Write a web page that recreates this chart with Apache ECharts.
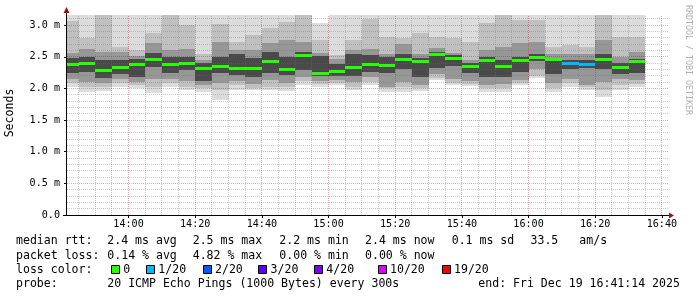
<!DOCTYPE html>
<html><head><meta charset="utf-8">
<script src="https://cdn.jsdelivr.net/npm/echarts@6/dist/echarts.min.js"></script>
<style>html,body{margin:0;padding:0;background:#fff}#c{width:697px;height:297px}</style>
</head><body><div id="c"></div>
<script>
// ---- data (values in ms, columns of 5 minutes) ----
const columnStart = ['13:40','13:45','13:50','13:55','14:00','14:05','14:10','14:15','14:20','14:25','14:30','14:35','14:40','14:45','14:50','14:55','15:00','15:05','15:10','15:15','15:20','15:25','15:30','15:35','15:40','15:45','15:50','15:55','16:00','16:05','16:10','16:15','16:20','16:25','16:30'];
const medianRtt = [2.38,2.395,2.29,2.34,2.38,2.47,2.38,2.395,2.33,2.35,2.315,2.33,2.43,2.305,2.53,2.24,2.27,2.34,2.38,2.37,2.46,2.44,2.55,2.48,2.35,2.45,2.35,2.45,2.50,2.46,2.40,2.39,2.47,2.34,2.44];
const lossCount = [0,0,0,0,0,0,0,0,0,0,0,0,0,0,0,0,0,0,0,0,0,0,0,0,0,0,0,0,0,0,1,1,0,0,0];
const smokeMax = [3.30,3.30,3.30,3.30,3.30,3.30,3.30,3.30,3.30,3.30,3.30,3.30,3.30,3.30,3.30,3.03,3.30,3.30,3.30,3.30,3.30,3.30,3.30,3.30,3.30,3.30,3.30,3.30,3.30,3.30,3.30,3.30,3.30,3.30,3.30];
const smokeHi1 = [3.06,2.79,3.20,2.66,2.60,2.87,3.20,3.00,2.55,3.02,2.74,2.84,2.95,3.05,3.20,2.77,2.53,2.76,3.10,2.82,2.80,2.88,2.82,2.79,2.74,3.03,3.20,3.08,3.08,2.66,2.68,2.66,3.20,2.82,2.82];
const smokeHi2 = [2.56,2.62,2.58,2.58,2.52,2.72,2.60,2.63,2.45,2.74,2.60,2.61,2.72,2.77,2.74,2.56,2.47,2.60,2.63,2.54,2.70,2.55,2.64,2.56,2.45,2.61,2.66,2.71,2.74,2.55,2.55,2.55,2.76,2.50,2.58];
const smokeHi3 = [2.48,2.50,2.45,2.45,2.47,2.56,2.50,2.50,2.40,2.50,2.55,2.48,2.58,2.50,2.58,2.52,2.38,2.55,2.53,2.50,2.55,2.48,2.58,2.53,2.40,2.50,2.45,2.50,2.55,2.48,2.45,2.45,2.55,2.40,2.47];
const smokeLo3 = [2.25,2.26,2.16,2.22,2.18,2.34,2.25,2.29,2.12,2.24,2.21,2.18,2.24,2.21,2.29,2.20,2.20,2.20,2.26,2.24,2.31,2.18,2.32,2.35,2.25,2.18,2.18,2.26,2.43,2.23,2.30,2.33,2.30,2.23,2.25];
const smokeLo2 = [2.15,2.10,2.08,2.15,2.10,2.15,2.15,2.12,2.06,2.08,2.12,2.07,2.13,2.08,2.18,2.12,2.13,2.10,2.18,2.03,2.10,2.05,2.22,2.15,2.12,2.06,2.07,2.13,2.30,2.09,2.15,2.06,2.10,2.15,2.14];
const smokeLo1 = [2.08,2.03,2.02,2.08,2.05,2.02,2.08,2.03,2.00,1.98,2.05,2.01,2.03,2.02,2.12,2.07,2.08,2.02,2.10,2.00,2.02,2.00,2.17,2.08,2.07,2.00,2.00,2.08,2.20,2.00,2.08,2.02,1.98,2.05,2.07];
const smokeMin = [2.02,1.95,1.96,2.02,2.00,1.92,2.03,1.97,1.95,1.82,1.97,1.97,1.97,1.96,2.06,2.03,2.05,1.97,2.05,1.95,1.95,1.96,2.13,2.05,2.04,1.95,1.95,2.05,2.16,1.95,2.03,1.98,1.87,1.98,2.02];
const xTickLabels = ['14:00','14:20','14:40','15:00','15:20','15:40','16:00','16:20','16:40'];
const yTickValues = [0,0.5,1.0,1.5,2.0,2.5,3.0];
const lossLabels = ['0','1/20','2/20','3/20','4/20','10/20','19/20'];
const lossThresholds = [0,1,2,3,4,10,19];
const lossColors = ['#26ff00','#00b8ff','#0059ff','#5e00ff','#7e00ff','#dd00ff','#ff0000'];
const statsRtt = ['median rtt:','2.4 ms avg','2.5 ms max','2.2 ms min','2.4 ms now','0.1 ms sd','33.5','am/s'];
const statsLoss = ['packet loss:','0.14 % avg','4.82 % max','0.00 % min','0.00 % now'];
const probeText = ['probe:','20 ICMP Echo Pings (1000 Bytes) every 300s','end: Fri Dec 19 16:41:14 2025'];

// ---- helpers ----
const toMin = s => { const [h,m] = s.split(':').map(Number); return h*60+m; };
const END_MIN = 16*60+41+14/60;
const X_MAX = END_MIN, X_MIN = END_MIN - 180;
const Y_MAX = 3.16;
const STEP = 5;
const fmtTime = v => { const h = Math.floor(v/60), m = Math.round(v%60); return String(h).padStart(2,'0')+':'+String(m).padStart(2,'0'); };
const lossColor = n => { let c = lossColors[0]; lossThresholds.forEach((t,i)=>{ if (n>=t) c = lossColors[i]; }); return c; };

const smokeData = columnStart.map((s,i)=>[toMin(s), toMin(s)+STEP, smokeMin[i], smokeLo1[i], smokeLo2[i], smokeLo3[i], smokeHi3[i], smokeHi2[i], smokeHi1[i], smokeMax[i]]);
const medianData = columnStart.map((s,i)=>[toMin(s), toMin(s)+STEP, medianRtt[i], lossCount[i]]);
const gridData = [];
for (let m = Math.ceil(X_MIN/5)*5; m <= X_MAX; m += 5) gridData.push([m, 0, 0, m % 20 === 0 ? 1 : 0]);
for (let k = 1; k <= 31; k++) gridData.push([X_MIN, k/10, 1, k % 5 === 0 ? 1 : 0]);

const mono = '"DejaVu Sans Mono", monospace';
const bandColors = ['#dcdcdc','#c0c0c0','#979797','#4a4a4a'];

function renderSmoke(params, api) {
  const x0 = Math.max(api.value(0), X_MIN), x1 = Math.min(api.value(1), X_MAX);
  const px0 = Math.round(api.coord([x0, 0])[0]);
  const px1 = Math.round(api.coord([x1, 0])[0]);
  const py = v => Math.round(api.coord([x0, Math.min(v, Y_MAX)])[1]);
  const children = [];
  for (let b = 0; b < 4; b++) {
    const lo = api.value(2+b), hi = api.value(9-b);
    const yt = py(hi), yb = py(lo);
    children.push({type:'rect', shape:{x:px0, y:yt, width:px1-px0, height:yb-yt}, style:{fill:bandColors[b]}});
  }
  return {type:'group', children};
}
function renderMedian(params, api) {
  const x0 = Math.max(api.value(0), X_MIN), x1 = Math.min(api.value(1), X_MAX);
  const px0 = Math.round(api.coord([x0, 0])[0]);
  const px1 = Math.round(api.coord([x1, 0])[0]);
  const y = Math.round(api.coord([x0, api.value(2)])[1]);
  return {type:'rect', shape:{x:px0, y:y-1, width:px1-px0, height:3}, style:{fill:lossColor(api.value(3))}};
}
function renderGrid(params, api) {
  const vertical = api.value(2) === 0, major = api.value(3) === 1;
  const stroke = major ? 'rgba(210,0,0,0.35)' : 'rgba(110,110,110,0.35)';
  const [l, b] = api.coord([X_MIN, 0]);
  const [r, t] = api.coord([X_MAX, Y_MAX]);
  let shape;
  if (vertical) {
    const x = Math.floor(api.coord([api.value(0), 0])[0]) + 0.5;
    shape = {x1:x, y1:Math.round(b), x2:x, y2:Math.round(t)};
  } else {
    const y = Math.floor(api.coord([X_MIN, api.value(1)])[1]) + 0.5;
    shape = {x1:Math.round(l)+1, y1:y, x2:Math.round(r)+2, y2:y};
  }
  return {type:'line', shape, style:{stroke, lineWidth:1, lineDash:[1,1]}};
}

// legend graphics
const graphics = [];
const txt = (x, y, text, extra) => graphics.push(Object.assign({type:'text', x, y, style:{text, font:'11.55px '+mono, fill:'#000', align:'left', verticalAlign:'middle'}}, extra||{}));
const rttX = [16,107.3,192.7,279.3,365,451.7,530.5,579.3];
statsRtt.forEach((s,i)=>txt(rttX[i], 241, s));
statsLoss.forEach((s,i)=>txt(rttX[i], 255.5, s));
txt(16, 269.5, 'loss color:');
const sqX = [111,146,202.7,258.3,314,377.7,441.7];
lossLabels.forEach((s,i)=>{
  graphics.push({type:'rect', shape:{x:Math.round(sqX[i])+0.5, y:265.5, width:8, height:8}, style:{fill:lossColors[i], stroke:'#000', lineWidth:1}});
  txt(sqX[i]+12.3, 269.5, s);
});
txt(16, 283.5, probeText[0]);
txt(107.3, 283.5, probeText[1]);
txt(478.3, 283.5, probeText[2]);
// axis title and watermark
graphics.push({type:'text', x:10, y:113, rotation:Math.PI/2, style:{text:'Seconds', font:'11.55px '+mono, fill:'#000', align:'center', verticalAlign:'middle'}});
graphics.push({type:'text', x:688, y:5, rotation:-Math.PI/2, style:{text:'RRDTOOL / TOBI OETIKER', font:'8.3px '+mono, fill:'#b0b0b0', align:'left', verticalAlign:'middle'}});
// axis lines with arrows
graphics.push({type:'line', z:100, shape:{x1:66.5, y1:216, x2:66.5, y2:12}, style:{stroke:'#000', lineWidth:1}});
graphics.push({type:'line', z:100, shape:{x1:63, y1:215.5, x2:670, y2:215.5}, style:{stroke:'#000', lineWidth:1}});
graphics.push({type:'polygon', z:101, shape:{points:[[63.5,13],[69.5,13],[66.5,7]]}, style:{fill:'#a01010'}});
graphics.push({type:'polygon', z:101, shape:{points:[[669,212.5],[669,218.5],[674,215.5]]}, style:{fill:'#a01010'}});

const chart = echarts.init(document.getElementById('c'), null, {renderer:'canvas'});
chart.setOption({
  animation:false,
  backgroundColor:'#fff',
  grid:{left:66, right:31, top:15, bottom:82},
  xAxis:{type:'value', min:X_MIN, max:X_MAX,
    axisLine:{show:false},
    axisTick:{show:true, length:3, customValues:xTickLabels.map(toMin), lineStyle:{color:'#000'}},
    axisLabel:{customValues:xTickLabels.map(toMin), formatter:fmtTime, fontFamily:mono, fontSize:10.1, color:'#000', margin:4},
    splitLine:{show:false}},
  yAxis:{type:'value', min:0, max:Y_MAX, interval:0.5,
    axisLine:{show:false},
    axisTick:{show:true, length:2, customValues:yTickValues, lineStyle:{color:'#000'}},
    axisLabel:{customValues:yTickValues, formatter:v => v === 0 ? '0.0' : v.toFixed(1)+' m', fontFamily:mono, fontSize:10.1, color:'#000', margin:6},
    splitLine:{show:false}},
  graphic:graphics,
  series:[
    {type:'custom', name:'smoke', renderItem:renderSmoke, data:smokeData, encode:{x:[0,1], y:[2,9]}, z:1, silent:true},
    {type:'custom', name:'grid', renderItem:renderGrid, data:gridData, encode:{x:0, y:1}, z:2, silent:true},
    {type:'custom', name:'median', renderItem:renderMedian, data:medianData, encode:{x:[0,1], y:2}, z:3, silent:true}
  ]
});
</script></body></html>
